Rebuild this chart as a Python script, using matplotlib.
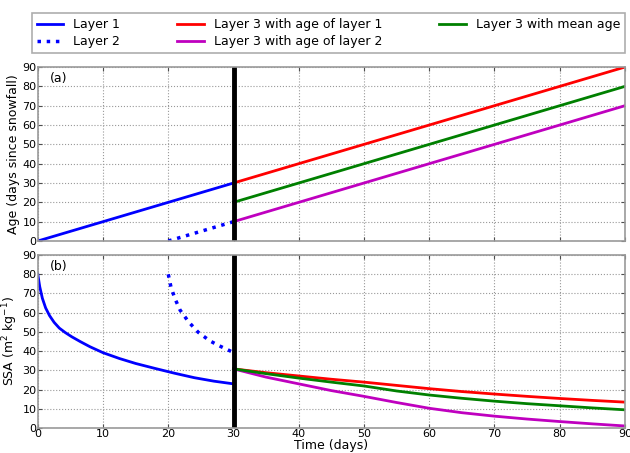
import matplotlib
matplotlib.use("Agg")
import matplotlib.pyplot as plt

# age panel (days since snowfall)
t_l1 = [0, 30]
age_l1 = [0, 30]
t_l2 = [20, 30]
age_l2 = [0, 10]
t_l3 = [30, 90]
age_l3_a1 = [30, 90]
age_l3_mean = [20, 80]
age_l3_a2 = [10, 70]

# SSA panel
t_ssa1 = [0, 0.3, 0.7, 1.2, 1.8, 2.5, 3.3, 4.2, 5.2, 6.5, 8, 10, 12.5, 15, 18, 21, 24, 27, 30]
ssa_l1 = [80, 73.5, 67.5, 62.5, 58.5, 55, 52, 49.7, 47.5, 45, 42.3, 39.2, 36.2, 33.6, 31, 28.5, 26.2, 24.4, 23]
t_ssa2 = [20, 20.4, 21, 21.8, 23.1, 24.6, 26.4, 28, 30]
ssa_l2 = [80, 73.5, 67.5, 61.4, 55.3, 49.8, 45.3, 42.5, 39.3]
t_ssa3 = [30, 35, 40, 45, 50, 55, 60, 65, 70, 75, 80, 85, 90]
ssa_l3_a1 = [30.8, 28.8, 27.1, 25.4, 23.9, 22.2, 20.5, 19.0, 17.7, 16.5, 15.4, 14.4, 13.5]
ssa_l3_mean = [30.8, 28.3, 26.0, 23.9, 21.9, 19.3, 17.2, 15.5, 14.0, 12.7, 11.6, 10.5, 9.5]
ssa_l3_a2 = [30.8, 26.5, 23.0, 19.5, 16.5, 13.3, 10.3, 8.0, 6.2, 4.7, 3.4, 2.2, 1.1]

plt.rcParams['font.size'] = 8

fig = plt.figure(figsize=(6.3, 4.53), dpi=100)
ax1 = fig.add_axes([0.060, 0.468, 0.932, 0.384])
ax2 = fig.add_axes([0.060, 0.055, 0.932, 0.382])

lw = 2
h1, = ax1.plot(t_l1, age_l1, color='b', lw=lw, label='Layer 1')
h2, = ax1.plot(t_l2, age_l2, color='b', lw=2.5, ls=':', label='Layer 2')
h3, = ax1.plot(t_l3, age_l3_a1, color='r', lw=lw, label='Layer 3 with age of layer 1')
h4, = ax1.plot(t_l3, age_l3_a2, color='m', lw=lw, label='Layer 3 with age of layer 2')
h5, = ax1.plot(t_l3, age_l3_mean, color='g', lw=lw, label='Layer 3 with mean age')

ax2.plot(t_ssa1, ssa_l1, color='b', lw=lw)
ax2.plot(t_ssa2, ssa_l2, color='b', lw=2.5, ls=':')
ax2.plot(t_ssa3, ssa_l3_a1, color='r', lw=lw)
ax2.plot(t_ssa3, ssa_l3_a2, color='m', lw=lw)
ax2.plot(t_ssa3, ssa_l3_mean, color='g', lw=lw)

for ax, tag in [(ax1, '(a)'), (ax2, '(b)')]:
    ax.axvline(30, color='k', lw=3.5)
    ax.set_xlim(0, 90)
    ax.set_ylim(0, 90)
    ax.set_xticks(range(0, 91, 10))
    ax.set_yticks(range(0, 91, 10))
    ax.grid(True, ls=':', color='0.6', lw=0.8)
    ax.tick_params(direction='in', top=True, right=True, length=3, color='0.3', pad=1)
    for s in ax.spines.values():
        s.set_color('0.6')
        s.set_linewidth(1.2)
    ax.text(0.02, 0.97, tag, transform=ax.transAxes, va='top', ha='left', fontsize=9)

ax1.tick_params(labelbottom=False)
ax1.set_ylabel('Age (days since snowfall)', fontsize=9, labelpad=2)
ax2.set_ylabel('SSA (m$^2$ kg$^{-1}$)', fontsize=9, labelpad=2)
ax2.set_xlabel('Time (days)', fontsize=9, labelpad=0)

leg = fig.legend(handles=[h1, h2, h3, h4, h5], ncol=3, loc='lower left',
                 bbox_to_anchor=(0.051, 0.883, 0.941, 0.088), mode='expand',
                 fontsize=9, frameon=True, fancybox=False, borderaxespad=0,
                 handlelength=2.1, columnspacing=1.5, labelspacing=0.3)
leg.get_frame().set_edgecolor('0.6')
leg.get_frame().set_linewidth(1.2)

fig.savefig('out.png', dpi=100)
